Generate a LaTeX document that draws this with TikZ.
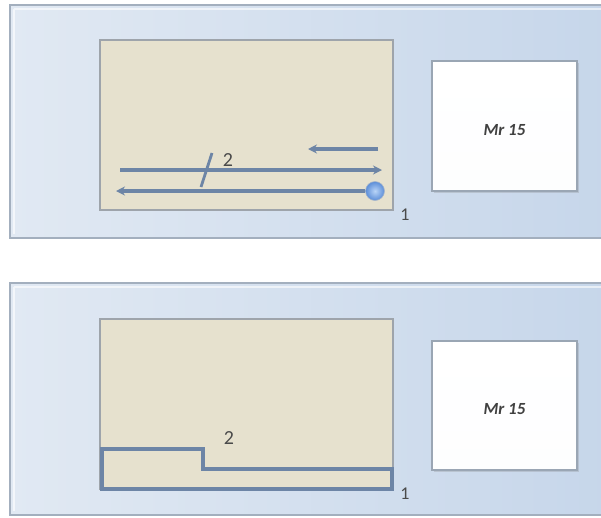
\documentclass[tikz,border=0pt]{standalone}
\usepackage{fontspec}
\setmainfont{Carlito}
\usetikzlibrary{arrows.meta,shadows}
\definecolor{panelL}{HTML}{E1E9F3}
\definecolor{panelR}{HTML}{C6D6EA}
\definecolor{panelEdge}{HTML}{A3AFBE}
\definecolor{sand}{HTML}{E6E1CE}
\definecolor{sandEdge}{HTML}{9EA4AB}
\definecolor{steel}{HTML}{6D85A6}
\definecolor{ink}{HTML}{4A4A4A}
\definecolor{cardEdge}{HTML}{9AA6B4}
\definecolor{knobIn}{HTML}{B9D4F7}
\definecolor{knobOut}{HTML}{5C8ED8}
\tikzset{
  panel/.style={left color=panelL, right color=panelR, draw=panelEdge, line width=1.5pt},
  tray/.style={fill=sand, draw=sandEdge, line width=1.5pt},
  card/.style={top color=white, bottom color=white!94!panelL, draw=cardEdge, line width=1.5pt,
    drop shadow={opacity=0.25, shadow xshift=1.5pt, shadow yshift=-1.5pt}},
  flow/.style={draw=steel, line width=3.6pt, -{Stealth[length=9pt,width=9pt]}},
  outline/.style={draw=steel, line width=3.2pt},
  knobstyle/.style={circle, minimum size=19pt, inner sep=0pt, inner color=knobIn, outer color=knobOut, draw=steel!60, line width=0.6pt},
  lbl/.style={font=\fontsize{20}{20}\selectfont, text=ink, inner sep=0pt},
  tick/.style={font=\fontsize{18}{18}\selectfont, text=ink, inner sep=0pt},
  hand/.style={font=\fontsize{17}{17}\selectfont\bfseries\itshape, text=black!75, inner sep=0pt},
}
\begin{document}
\begin{tikzpicture}[x=1pt,y=-1pt]
\useasboundingbox (0,0) rectangle (601,517);
\clip (0,0) rectangle (601,517);

% ---- upper panel ----
\path[panel] (10,5) rectangle (612,238);
\draw[white, opacity=0.6, line width=1.2pt] (14,9) -- (14,234) (14,9) -- (612,9);
\path[tray] (100,40) rectangle (393,210);
\coordinate (a1s) at (378,149);
\coordinate (a1e) at (308,149);
\coordinate (a2s) at (120,170);
\coordinate (a2e) at (382,170);
\coordinate (a3e) at (116,191);
\node[knobstyle] (knob) at (375,191) {};
\draw[flow] (a1s) -- (a1e);
\draw[flow] (a2s) -- (a2e);
\draw[flow] (knob.west) -- (a3e);
\coordinate (s1) at (201,187);
\coordinate (s2) at (212,153);
\draw[steel, line width=2.8pt] (s1) -- (s2);
\node[lbl] (twoA) at (228,160) {2};
\node[tick] (oneA) at (405,215) {1};
\node[card, minimum width=145pt, minimum height=130pt] (cardA) at (504.5,126) {};
\node[hand] (txtA) at ([yshift=-4pt]cardA.center) {Mr 15};

% ---- lower panel ----
\path[panel] (10,283) rectangle (612,515);
\draw[white, opacity=0.6, line width=1.2pt] (14,287) -- (14,511) (14,287) -- (612,287);
\path[tray] (100,319) rectangle (393,489);
\coordinate (p1) at (102,449);
\coordinate (p2) at (203,449);
\coordinate (p3) at (203,469);
\coordinate (p4) at (392,469);
\coordinate (p5) at (392,489);
\coordinate (p6) at (102,489);
\draw[outline, line join=miter] (p1) -- (p2) -- (p3) -- (p4) -- (p5) -- (p6) -- cycle;
\node[lbl] (twoB) at (229,438) {2};
\node[tick] (oneB) at (405,494) {1};
\node[card, minimum width=145pt, minimum height=129pt] (cardB) at (504.5,405.5) {};
\node[hand] (txtB) at ([yshift=-4pt]cardB.center) {Mr 15};
\end{tikzpicture}
\end{document}
